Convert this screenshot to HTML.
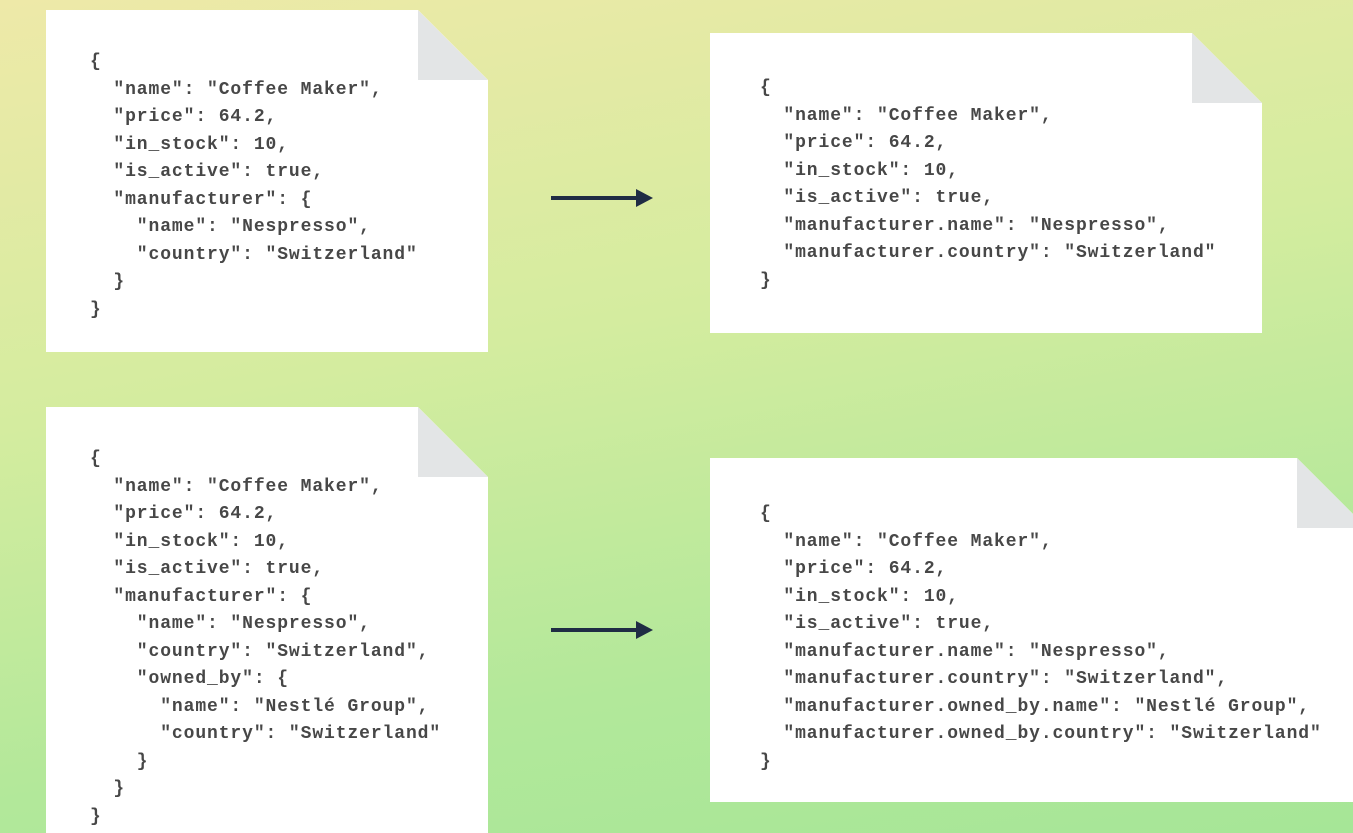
<!DOCTYPE html>
<html><head><style>
html{margin:0;padding:0;width:1353px;height:833px;overflow:hidden;background:#a6e697}
body{margin:0;padding:0;width:1353px;height:833px;overflow:hidden;position:relative;background:linear-gradient(170deg,#eee9a8 0%,#d4ec9f 40%,#b2e89a 75%,#a6e697 100%)}
.doc{position:absolute;background:#fff}
.fold{position:absolute;width:70px;height:70px;top:0;right:0;background:linear-gradient(to top right,#e3e5e6 50%,transparent 50%)}
pre{position:absolute;margin:0;font-family:"Liberation Mono",monospace;font-weight:bold;font-size:18px;letter-spacing:0.9px;line-height:27.5px;color:#474747}
.arrow{position:absolute;height:4px;background:#1f2c44}
.arrow:after{content:"";position:absolute;right:-16px;top:-7px;border-left:17px solid #1f2c44;border-top:9px solid transparent;border-bottom:9px solid transparent}
</style></head><body>

<div class="doc" style="left:46px;top:10px;width:442px;height:342px;clip-path:polygon(0 0,372px 0,442px 70px,442px 100%,0 100%)">
<div class="fold"></div>
<pre style="left:44px;top:39px">{
  "name": "Coffee Maker",
  "price": 64.2,
  "in_stock": 10,
  "is_active": true,
  "manufacturer": {
    "name": "Nespresso",
    "country": "Switzerland"
  }
}</pre></div>

<div class="doc" style="left:710px;top:33px;width:552px;height:300px;clip-path:polygon(0 0,482px 0,552px 70px,552px 100%,0 100%)">
<div class="fold"></div>
<pre style="left:50px;top:42px">{
  "name": "Coffee Maker",
  "price": 64.2,
  "in_stock": 10,
  "is_active": true,
  "manufacturer.name": "Nespresso",
  "manufacturer.country": "Switzerland"
}</pre></div>

<div class="doc" style="left:46px;top:407px;width:442px;height:426px;clip-path:polygon(0 0,372px 0,442px 70px,442px 100%,0 100%)">
<div class="fold"></div>
<pre style="left:44px;top:39px">{
  "name": "Coffee Maker",
  "price": 64.2,
  "in_stock": 10,
  "is_active": true,
  "manufacturer": {
    "name": "Nespresso",
    "country": "Switzerland",
    "owned_by": {
      "name": "Nestlé Group",
      "country": "Switzerland"
    }
  }
}</pre></div>

<div class="doc" style="left:710px;top:458px;width:657px;height:344px;clip-path:polygon(0 0,587px 0,657px 70px,657px 100%,0 100%)">
<div class="fold"></div>
<pre style="left:50px;top:43px">{
  "name": "Coffee Maker",
  "price": 64.2,
  "in_stock": 10,
  "is_active": true,
  "manufacturer.name": "Nespresso",
  "manufacturer.country": "Switzerland",
  "manufacturer.owned_by.name": "Nestlé Group",
  "manufacturer.owned_by.country": "Switzerland"
}</pre></div>

<div class="arrow" style="left:551px;top:196px;width:86px"></div>
<div class="arrow" style="left:551px;top:628px;width:86px"></div>
</body></html>
